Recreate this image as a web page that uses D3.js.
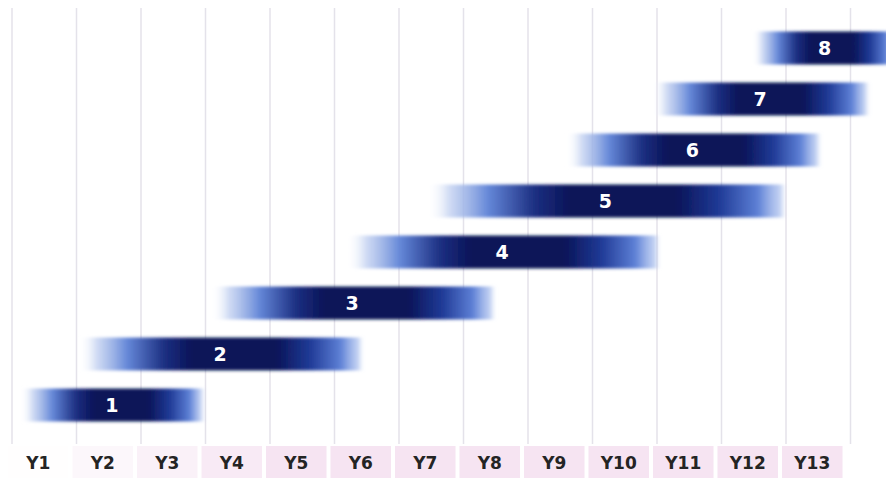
<!DOCTYPE html>
<html>
<head>
<meta charset="utf-8">
<script src="https://cdn.jsdelivr.net/npm/d3@7"></script>
<style>
  html, body { margin: 0; padding: 0; background: #fff; }
  svg { display: block; }
  .yr text { font-family: "DejaVu Sans", sans-serif; font-weight: 700; font-size: 17px; fill: #242424; }
  .bar-label { font-family: "DejaVu Sans", sans-serif; font-weight: 700; font-size: 19px; fill: #fff; }
</style>
</head>
<body>
<div id="chart"></div>
<script>
// year columns
var years = ["Y1","Y2","Y3","Y4","Y5","Y6","Y7","Y8","Y9","Y10","Y11","Y12","Y13"];
// bars: row number, start and end (in years from start of Y1)
var barNames = ["1","2","3","4","5","6","7","8"];
var barStart = [0.15, 1.05, 3.1, 5.2, 6.45, 8.6, 9.95, 11.5];
var barEnd   = [2.95, 5.4, 7.45, 10.0, 11.95, 12.5, 13.25, 13.7];

const width = 886, height = 478;
const margin = {top: 8, left: 12, right: 35.5, bottom: 33};

const svg = d3.select('#chart').append('svg')
  .attr('width', width)
  .attr('height', height);

const x = d3.scaleLinear()
  .domain([0, years.length])
  .range([margin.left, width - margin.right]);

const xBand = d3.scaleBand()
  .domain(years)
  .range([margin.left, width - margin.right]);

const y = d3.scaleLinear()
  .domain([1, barNames.length])
  .range([405, 48]);

const barH = 33;

// gradient + soft edge
const defs = svg.append('defs');
const grad = defs.append('linearGradient')
  .attr('id', 'barGrad')
  .attr('x1', '0%').attr('x2', '100%')
  .attr('y1', '0%').attr('y2', '0%');
[
  [0.00, '#ffffff', 0],
  [0.06, '#c0cff0', 0.75],
  [0.17, '#6487d8', 1],
  [0.30, '#1c2f82', 1],
  [0.40, '#0a1458', 1],
  [0.70, '#0a1458', 1],
  [0.82, '#1f3a96', 1],
  [0.93, '#5d80d6', 1],
  [1.00, '#a9bfee', 0.6]
].forEach(s => {
  grad.append('stop').attr('offset', s[0]).attr('stop-color', s[1]).attr('stop-opacity', s[2]);
});

defs.append('filter')
  .attr('id', 'soft')
  .attr('x', '-5%').attr('y', '-30%').attr('width', '110%').attr('height', '160%')
  .append('feGaussianBlur')
  .attr('stdDeviation', '2.5 1.8');

// vertical gridlines
svg.append('g')
  .selectAll('line')
  .data(d3.range(years.length + 1))
  .enter().append('line')
  .attr('x1', d => x(d)).attr('x2', d => x(d))
  .attr('y1', margin.top).attr('y2', height - margin.bottom - 1)
  .attr('stroke', '#e4e2ea')
  .attr('stroke-width', 1.5);

// year label cells
const shift = -6;
const pinkOp = d3.scaleLinear().domain([0, 4]).range([0.05, 1]).clamp(true);
svg.append('g')
  .selectAll('rect')
  .data(years)
  .enter().append('rect')
  .attr('x', d => xBand(d) + 2 + shift)
  .attr('y', height - margin.bottom + 1)
  .attr('width', xBand.bandwidth() - 4)
  .attr('height', margin.bottom)
  .attr('fill', '#f6e4f2')
  .attr('opacity', (d, i) => pinkOp(i));

const xAxis = d3.axisBottom(xBand).tickSize(0).tickPadding(0);
svg.append('g')
  .attr('class', 'yr')
  .attr('transform', `translate(${shift}, ${height - 21})`)
  .call(xAxis)
  .call(g => g.select('.domain').remove());

// bars
const bars = svg.append('g')
  .selectAll('g')
  .data(barNames)
  .enter().append('g');

bars.append('rect')
  .attr('x', (d, i) => x(barStart[i]))
  .attr('y', (d, i) => y(i + 1) - barH / 2)
  .attr('width', (d, i) => x(barEnd[i]) - x(barStart[i]))
  .attr('height', barH)
  .attr('fill', 'url(#barGrad)')
  .attr('filter', 'url(#soft)');

bars.append('text')
  .attr('class', 'bar-label')
  .attr('x', (d, i) => x((barStart[i] + barEnd[i]) / 2))
  .attr('y', (d, i) => y(i + 1))
  .attr('text-anchor', 'middle')
  .attr('dominant-baseline', 'central')
  .text(d => d);
</script>
</body>
</html>
